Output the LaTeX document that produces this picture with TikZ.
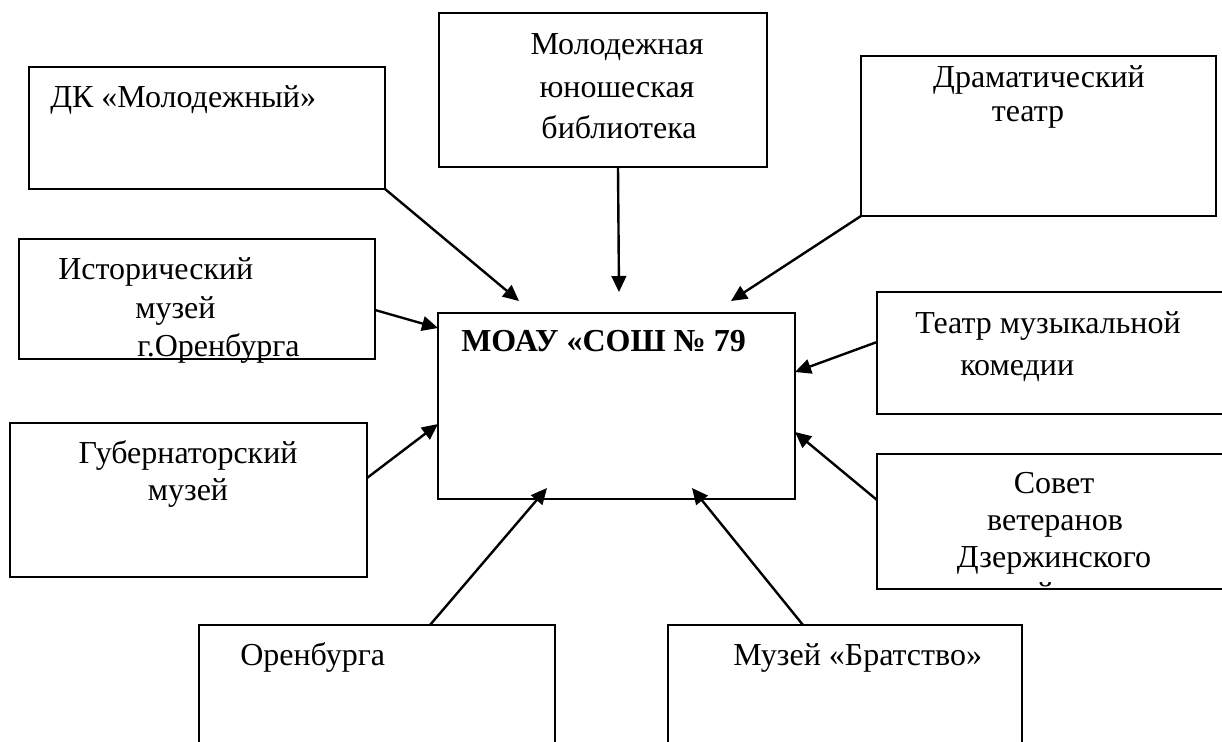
\documentclass[tikz,border=0pt]{standalone}
\usepackage{fontspec}
\setmainfont{Liberation Serif}
\usetikzlibrary{arrows.meta}
\newcommand\boxnode[5]{\node[box,anchor=north west,minimum width={(#4-#2)*0.75pt},minimum height={(#5-#3)*0.75pt}] (#1) at (#2,#3) {};}
\begin{document}
\begin{tikzpicture}[x=0.75pt,y=-0.75pt,
  box/.style={draw,line width=1.8pt,outer sep=0pt,inner sep=0pt},
  txt/.style={inner sep=0pt,font=\fontsize{24}{28}\selectfont},
  bold/.style={inner sep=0pt,font=\fontsize{24}{28}\selectfont\bfseries},
  arr/.style={line width=1.8pt,-{Triangle[length=12pt,width=11pt]}}]
\clip (0,0) rectangle (1222,742);
\useasboundingbox (0,0) rectangle (1222,742);
% boxes
\boxnode{dk}{29}{67}{385}{189}
\boxnode{ist}{19}{239}{375}{359}
\boxnode{mol}{439}{13}{767}{167}
\boxnode{dr}{861}{56}{1216}{216}
\boxnode{c}{438}{313}{795}{499}
\boxnode{tm}{877}{292}{1233}{414}
\boxnode{sv}{877}{454}{1233}{589}
\boxnode{gub}{10}{423}{367}{577}
\boxnode{or}{199}{625}{555}{760}
\boxnode{br}{668}{625}{1022}{760}
% texts
\node[txt,anchor=base west] (dk1) at (50,108) {ДК «Молодежный»};
\node[txt,anchor=base west] (ist1) at (58,279) {Исторический};
\node[txt,anchor=base west] (ist2) at (135,318) {музей};
\node[txt,anchor=base west] (ist3) at (137,356) {г.Оренбурга};
\node[txt,anchor=base] (mol1) at (617,55) {Молодежная};
\node[txt,anchor=base] (mol2) at (617,98) {юношеская};
\node[txt,anchor=base] (mol3) at (619,138) {библиотека};
\node[txt,anchor=base] (dr1) at (1039,88) {Драматический};
\node[txt,anchor=base] (dr2) at (1028,122) {театр};
\node[txt,anchor=base west] (tm1) at (915,333) {Театр музыкальной};
\node[txt,anchor=base west] (tm2) at (960,375) {комедии};
\begin{scope}
\clip (877,454) rectangle (1233,588);
\node[txt,anchor=base] (sv1) at (1054,493) {Совет};
\node[txt,anchor=base] (sv2) at (1055,530) {ветеранов};
\node[txt,anchor=base] (sv3) at (1054,567) {Дзержинского};
\node[txt,anchor=base] (sv4) at (1054,604) {района};
\end{scope}
\node[txt,anchor=base] (gub1) at (188,463) {Губернаторский};
\node[txt,anchor=base] (gub2) at (188,500) {музей};
\node[txt,anchor=base west] (or1) at (240,665) {Оренбурга};
\node[txt,anchor=base west] (br1) at (733,665) {Музей «Братство»};
\node[bold,anchor=base west] (c1) at (461,351) {МОАУ «СОШ № 79};
% arrows
\draw[arr] (dk.south east) -- ([xshift=81*0.75pt,yshift=12*0.75pt]c.north west);
\draw[arr] ([xshift=179*0.75pt]mol.south west) -- ([xshift=181*0.75pt,yshift=21*0.75pt]c.north west);
\draw[arr] (dr.south west) -- ([xshift=293*0.75pt,yshift=12*0.75pt]c.north west);
\draw[arr] ([yshift=-71*0.75pt]ist.north east) -- ([yshift=-15*0.75pt]c.north west);
\draw[arr] ([yshift=-55*0.75pt]gub.north east) -- ([yshift=-111*0.75pt]c.north west);
\draw[arr] ([yshift=-50*0.75pt]tm.north west) -- ([yshift=-59*0.75pt]c.north east);
\draw[arr] ([yshift=-46*0.75pt]sv.north west) -- ([yshift=-119*0.75pt]c.north east);
\draw[arr] ([xshift=231*0.75pt]or.north west) -- ([xshift=109*0.75pt,yshift=11*0.75pt]c.south west);
\draw[arr] ([xshift=135*0.75pt]br.north west) -- ([xshift=254*0.75pt,yshift=11*0.75pt]c.south west);
\end{tikzpicture}
\end{document}
